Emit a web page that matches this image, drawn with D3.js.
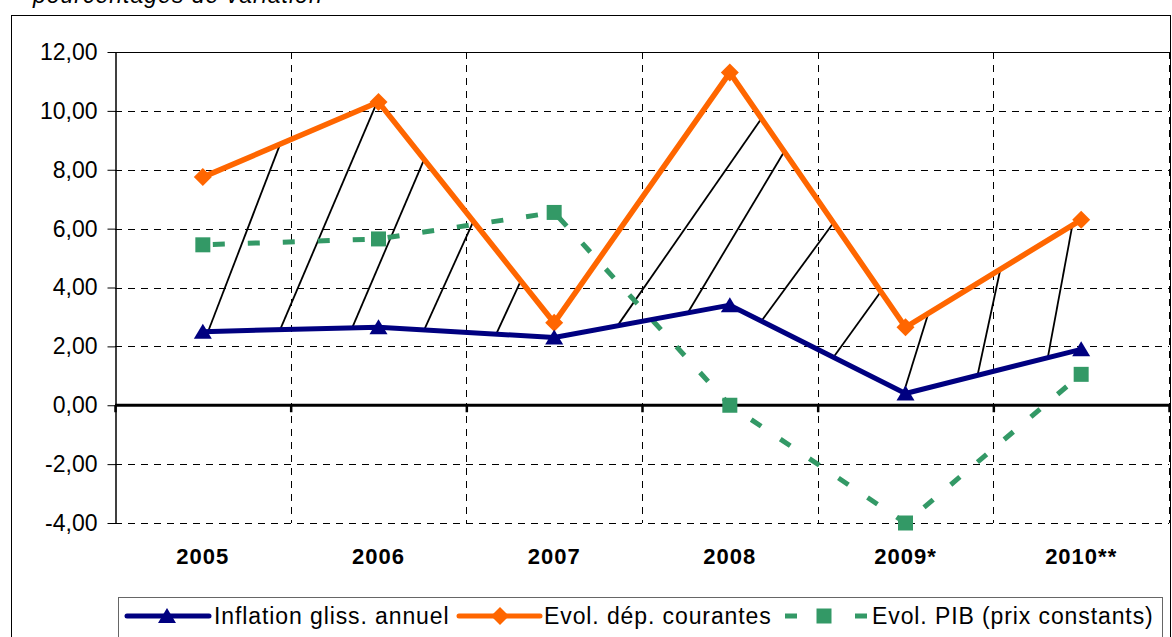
<!DOCTYPE html>
<html><head><meta charset="utf-8">
<script src="https://cdn.jsdelivr.net/npm/d3@7"></script>
<style>
html,body{margin:0;padding:0;background:#fff;}
svg{display:block;font-family:Arial,"Liberation Sans",sans-serif;}
</style></head>
<body><svg id="c" width="1172" height="637"></svg>
<script>
const categories = ["2005","2006","2007","2008","2009*","2010**"];
const inflation = [2.5, 2.65, 2.3, 3.4, 0.4, 1.9];
const depCourantes = [7.75, 10.3, 2.8, 11.3, 2.65, 6.3];
const pib = [5.45, 5.65, 6.55, 0.0, -4.0, 1.05];
const yTicks = [-4, -2, 0, 2, 4, 6, 8, 10, 12];
const legendLabels = ["Inflation gliss. annuel", "Evol. dép. courantes", "Evol. PIB (prix constants)"];
const subtitle = "pourcentages de variation";
// hatch strokes: [index on inflation line, index on dépenses line]
const hatchFrom = [0.03, 0.44, 0.85, 1.26, 1.67, 2.36, 2.76, 3.18, 3.59, 3.99, 4.41, 4.81];
const hatchTo   = [0.44, 0.99, 1.26, 1.54, 1.81, 3.18, 3.31, 3.59, 3.86, 4.13, 4.54, 4.95];

const svg = d3.select("#c");
const L = 115, R = 1169, T = 52, B = 523;
const xb = d3.scaleBand().domain(categories).range([L, R]);
const xi = d3.scaleLinear().domain([-0.5, categories.length - 0.5]).range([L, R]);
const y = d3.scaleLinear().domain([-4, 12]).range([B, T]);
const loc = d3.formatLocale({decimal: ",", thousands: " ", grouping: [3], currency: ["", ""], minus: "-"});
const fmt = loc.format(".2f");

// subtitle (cropped at top, as in the reference)
svg.append("text").attr("x", 33).attr("y", 3).attr("font-size", 23).attr("font-style", "italic")
  .attr("letter-spacing", 1).attr("fill", "#000").text(subtitle);

// outer frame
svg.append("rect").attr("x", 11.5).attr("y", 15.5).attr("width", 1159).attr("height", 640)
  .attr("fill", "none").attr("stroke", "#000").attr("stroke-width", 1);

// horizontal gridlines
const g = svg.append("g");
yTicks.filter(v => v !== 0 && v !== 12).forEach(v => {
  g.append("line").attr("x1", L).attr("x2", R).attr("y1", Math.round(y(v)) + 0.5).attr("y2", Math.round(y(v)) + 0.5)
    .attr("stroke", "#000").attr("stroke-width", 1).attr("stroke-dasharray", "7,6");
});
g.append("line").attr("x1", L).attr("x2", R).attr("y1", Math.round(y(12)) + 0.5).attr("y2", Math.round(y(12)) + 0.5)
  .attr("stroke", "#000").attr("stroke-width", 1);
// vertical gridlines
categories.forEach((c, i) => {
  if (i === 0) return;
  const xx = Math.round(xb(c)) + 0.5;
  g.append("line").attr("x1", xx).attr("x2", xx).attr("y1", T).attr("y2", B)
    .attr("stroke", "#000").attr("stroke-width", 1).attr("stroke-dasharray", "7,6");
});
g.append("line").attr("x1", R + 0.5).attr("x2", R + 0.5).attr("y1", T).attr("y2", B)
  .attr("stroke", "#000").attr("stroke-width", 1).attr("stroke-dasharray", "7,6");

// y axis
const ya = svg.append("g").attr("transform", `translate(${L + 0.5},0)`)
  .call(d3.axisLeft(y).tickValues(yTicks).tickSize(8).tickSizeOuter(0).tickPadding(10).tickFormat(fmt));
ya.select(".domain").attr("stroke", "#000").attr("stroke-width", 1.5);
ya.selectAll(".tick line").attr("stroke", "#000");
ya.selectAll(".tick text").attr("font-size", 23).attr("fill", "#000").attr("font-family", "Arial, 'Liberation Sans', sans-serif");

// zero line and its ticks
svg.append("line").attr("x1", L).attr("x2", R + 1).attr("y1", y(0)).attr("y2", y(0)).attr("stroke", "#000").attr("stroke-width", 3);
const bounds = categories.map(c => xb(c)).concat([R]);
bounds.forEach(b => {
  svg.append("line").attr("x1", b + 0.5).attr("x2", b + 0.5).attr("y1", y(0)).attr("y2", y(0) + 7)
    .attr("stroke", "#000").attr("stroke-width", 2.5);
});

// x labels
categories.forEach(c => {
  svg.append("text").attr("x", xb(c) + xb.bandwidth() / 2).attr("y", 564).attr("text-anchor", "middle")
    .attr("font-size", 22).attr("font-weight", "bold").attr("letter-spacing", 1).attr("fill", "#000").text(c);
});

// hatch lines
function interp(arr, t) {
  const i = Math.max(0, Math.min(arr.length - 2, Math.floor(t)));
  const f = t - i;
  return arr[i] + (arr[i + 1] - arr[i]) * f;
}
hatchFrom.forEach((t0, k) => {
  const t1 = hatchTo[k];
  svg.append("line").attr("x1", xi(t0)).attr("y1", y(interp(inflation, t0)))
    .attr("x2", xi(t1)).attr("y2", y(interp(depCourantes, t1)))
    .attr("stroke", "#000").attr("stroke-width", 1.8);
});

const line = d3.line().x((d, i) => xi(i)).y(d => y(d));
const NAVY = "#000080", ORANGE = "#FF6600", GREEN = "#339966";

// PIB
svg.append("path").datum(pib).attr("d", line).attr("fill", "none").attr("stroke", GREEN)
  .attr("stroke-width", 5).attr("stroke-dasharray", "12,23").attr("stroke-dashoffset", -10);
// dépenses
svg.append("path").datum(depCourantes).attr("d", line).attr("fill", "none").attr("stroke", ORANGE)
  .attr("stroke-width", 5.5).attr("stroke-linejoin", "miter");
// inflation
svg.append("path").datum(inflation).attr("d", line).attr("fill", "none").attr("stroke", NAVY)
  .attr("stroke-width", 5).attr("stroke-linejoin", "round");

const tri = "M0,-8L9,7L-9,7Z";
const dia = "M0,-9L9,0L0,9L-9,0Z";
const sq = "M-7.5,-7.5H7.5V7.5H-7.5Z";
svg.append("g").selectAll("path").data(pib).join("path")
  .attr("transform", (d, i) => `translate(${xi(i)},${y(d)})`).attr("d", sq).attr("fill", GREEN);
svg.append("g").selectAll("path").data(depCourantes).join("path")
  .attr("transform", (d, i) => `translate(${xi(i)},${y(d)})`).attr("d", dia).attr("fill", ORANGE);
svg.append("g").selectAll("path").data(inflation).join("path")
  .attr("transform", (d, i) => `translate(${xi(i)},${y(d)})`).attr("d", tri).attr("fill", NAVY);

// legend
const lg = svg.append("g");
lg.append("rect").attr("x", 118.5).attr("y", 597.5).attr("width", 1044).attr("height", 50)
  .attr("fill", "#fff").attr("stroke", "#666").attr("stroke-width", 1);
const ly = 616;
lg.append("line").attr("x1", 127).attr("x2", 209).attr("y1", ly).attr("y2", ly).attr("stroke", NAVY).attr("stroke-width", 5).attr("stroke-linecap", "round");
lg.append("path").attr("transform", `translate(167,${ly})`).attr("d", tri).attr("fill", NAVY);
lg.append("line").attr("x1", 459).attr("x2", 540).attr("y1", ly).attr("y2", ly).attr("stroke", ORANGE).attr("stroke-width", 5).attr("stroke-linecap", "round");
lg.append("path").attr("transform", `translate(500,${ly})`).attr("d", dia).attr("fill", ORANGE);
lg.append("line").attr("x1", 785).attr("x2", 797).attr("y1", ly).attr("y2", ly).attr("stroke", GREEN).attr("stroke-width", 5);
lg.append("line").attr("x1", 855).attr("x2", 867).attr("y1", ly).attr("y2", ly).attr("stroke", GREEN).attr("stroke-width", 5);
lg.append("path").attr("transform", `translate(824,${ly})`).attr("d", sq).attr("fill", GREEN);
const lx = [214, 544, 872];
legendLabels.forEach((t, i) => {
  lg.append("text").attr("x", lx[i]).attr("y", ly + 8).attr("font-size", 23).attr("letter-spacing", 0.9)
    .attr("fill", "#000").text(t);
});
</script></body></html>
